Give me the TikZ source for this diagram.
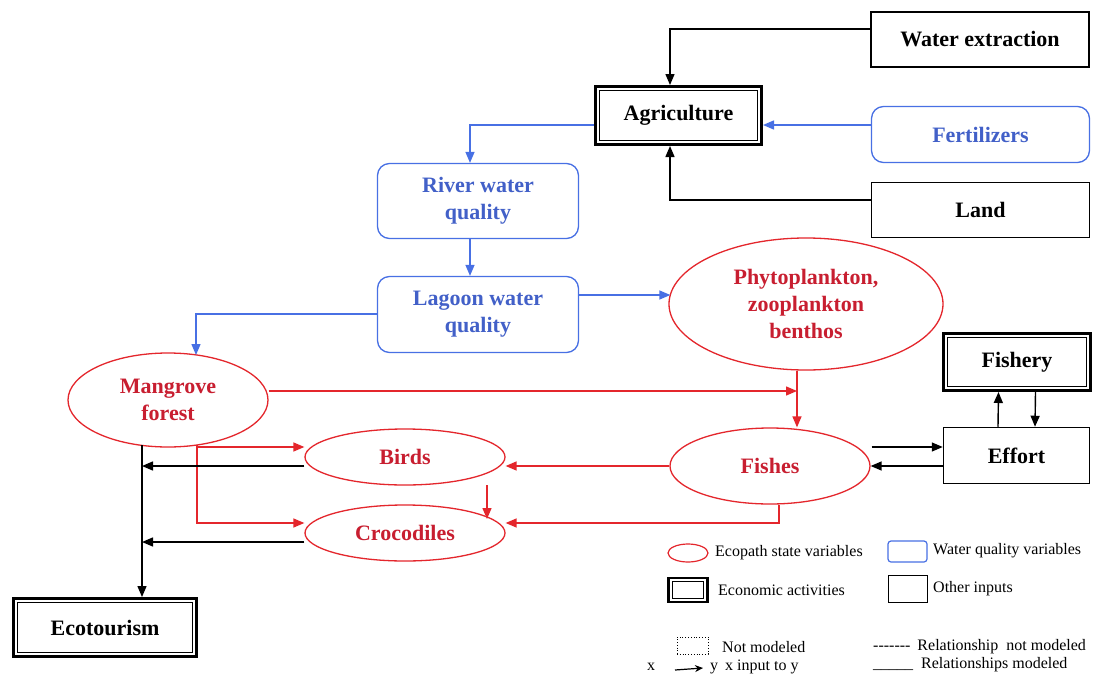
\documentclass[tikz,border=0pt]{standalone}
\usepackage{fontspec}
\setmainfont{Liberation Serif}
\usetikzlibrary{shapes.geometric,arrows.meta,calc}
\definecolor{myred}{RGB}{228,38,44}
\definecolor{redtxt}{RGB}{200,30,48}
\definecolor{myblue}{RGB}{72,112,228}
\definecolor{bluetxt}{RGB}{66,96,200}
\tikzset{
  lbl/.style={font=\fontsize{22}{27}\selectfont\bfseries, align=center, inner sep=0pt},
  otherbox/.style={lbl, rectangle, draw=black, line width=1.5pt},
  econbox/.style={lbl, rectangle, draw=black, line width=3pt,
    path picture={\draw[black, line width=1.3pt]
      ([shift={(4.3pt,-4.3pt)}]path picture bounding box.north west) rectangle
      ([shift={(-4.3pt,4.3pt)}]path picture bounding box.south east);}},
  wqbox/.style={lbl, rectangle, draw=myblue, line width=1.3pt, rounded corners=12pt, text=bluetxt},
  ecoell/.style={lbl, ellipse, draw=myred, line width=1.3pt, text=redtxt},
  tip/.style={-{Triangle[length=11pt,width=9pt]}},
  karr/.style={tip, draw=black, line width=1.4pt},
  barr/.style={tip, draw=myblue, line width=1.4pt},
  rarr/.style={tip, draw=myred, line width=1.4pt},
  legtxt/.style={font=\fontsize{16}{19}\selectfont, anchor=west, inner sep=0pt},
}
\begin{document}
\begin{tikzpicture}[x=1pt,y=-1pt]
\useasboundingbox[fill=white] (0,0) rectangle (1096,678);

% nodes
\node[otherbox, minimum width=218pt, minimum height=55pt] (wext) at (980,39.5) {Water extraction};
\node[econbox, minimum width=166pt, minimum height=58pt] (agri) at (678.5,115.5) {Agriculture};
\node[wqbox, minimum width=218pt, minimum height=56pt] (fert) at (980.5,134.5) {Fertilizers};
\node[otherbox, minimum width=218pt, minimum height=55pt] (land) at (980.5,210) {Land};
\node[wqbox, minimum width=201pt, minimum height=75pt] (river) at (478,201) {River water\\quality};
\node[wqbox, minimum width=201pt, minimum height=76pt] (lagoon) at (478,314.5) {Lagoon water\\quality};
\node[ecoell, minimum width=274pt, minimum height=132pt] (phyto) at (806,304) {Phytoplankton,\\zooplankton\\benthos};
\node[ecoell, minimum width=200pt, minimum height=94pt] (mang) at (168,400) {Mangrove\\forest};
\node[ecoell, minimum width=200pt, minimum height=56pt] (birds) at (405,457) {Birds};
\node[ecoell, minimum width=200pt, minimum height=56pt] (croc) at (405,533) {Crocodiles};
\node[ecoell, minimum width=200pt, minimum height=76pt] (fishes) at (770,466) {Fishes};
\node[econbox, minimum width=147pt, minimum height=57pt] (fishery) at (1017,362) {Fishery};
\node[otherbox, minimum width=146pt, minimum height=56pt] (effort) at (1016.5,455.5) {Effort};
\node[econbox, minimum width=183pt, minimum height=58pt] (eco) at (105,627.5) {Ecotourism};

% top connectors
\draw[karr] ([yshift=10.5pt]wext.west) -| ([xshift=-8.5pt]agri.north);
\draw[barr] ([yshift=9.5pt]fert.west) -- ([yshift=-9.5pt]agri.east);
\draw[karr] ([yshift=10pt]land.west) -| ([xshift=-8.5pt]agri.south);
\draw[barr] ([yshift=-9.5pt]agri.west) -| ([xshift=-8pt]river.north);
\draw[barr] ([xshift=-8pt]river.south) -- ([xshift=-8pt]lagoon.north);
\draw[barr] ([yshift=0.5pt]lagoon.west) -| ([xshift=28pt,yshift=45pt]mang.center);
\draw[barr] ([yshift=19.5pt]lagoon.east) -- ([xshift=2pt,yshift=9pt]phyto.west);

% red food-web connectors
\coordinate (m1) at ([yshift=9pt]mang.east);
\coordinate (pf) at ([xshift=-9pt]phyto.south);
\draw[rarr] (m1) -- (m1 -| pf);
\draw[rarr] (pf) -- (pf |- fishes.north);
\coordinate (mb) at ([xshift=29pt,yshift=-45pt]mang.center);
\draw[rarr] (mb) |- ([yshift=10pt]birds.west);
\draw[rarr] (mb) |- ([yshift=10pt]croc.west);
\draw[rarr] (fishes.west) -- ([yshift=-9pt]birds.east);
\coordinate (f1) at ([xshift=9pt]fishes.south);
\draw[rarr] (f1) |- ([yshift=10pt]croc.east);
\draw[rarr] ([xshift=82pt,yshift=-28pt]birds.center) -- ([xshift=82pt,yshift=14pt]croc.center);

% black connectors to ecotourism
\coordinate (mk) at ([xshift=-26pt,yshift=-45pt]mang.center);
\draw[karr] (mk) -- (mk |- eco.north);
\coordinate (b1) at ([yshift=-9pt]birds.west);
\draw[karr] (b1) -- (b1 -| mk);
\coordinate (c2) at ([yshift=-9pt]croc.west);
\draw[karr] (c2) -- (c2 -| mk);

% fishery connectors
\draw[karr] ([xshift=1pt,yshift=19pt]fishes.east) -- ([yshift=8.5pt]effort.west);
\draw[karr] ([yshift=-10.5pt]effort.west) -- (fishes.east);
\draw[karr] ([xshift=-18.5pt]effort.north) -- ([xshift=-18.5pt]fishery.south);
\draw[karr] ([xshift=18.5pt]fishery.south) -- ([xshift=18.5pt]effort.north);

% legend
\node[ellipse, draw=myred, line width=1.2pt, minimum width=40pt, minimum height=18pt, inner sep=0pt] (lgA) at (688,553) {};
\node[legtxt] (lgAt) at (715,553) {Ecopath state variables};
\node[rectangle, draw=myblue, line width=1.2pt, rounded corners=3pt, minimum width=39pt, minimum height=21pt, inner sep=0pt] (lgB) at (907.5,551.5) {};
\node[legtxt] (lgBt) at (933,551) {Water quality variables};
\node[rectangle, draw=black, line width=2.2pt, minimum width=39pt, minimum height=24pt, inner sep=0pt,
  path picture={\draw[black, line width=1pt]
      ([shift={(3.6pt,-3.6pt)}]path picture bounding box.north west) rectangle
      ([shift={(-3.6pt,3.6pt)}]path picture bounding box.south east);}] (lgC) at (688,590) {};
\node[legtxt] (lgCt) at (718,590) {Economic activities};
\node[rectangle, draw=black, line width=1pt, minimum width=39pt, minimum height=27pt, inner sep=0pt] (lgD) at (907.5,588.5) {};
\node[legtxt] (lgDt) at (933,589) {Other inputs};
\node[rectangle, draw=black, line width=0.8pt, dotted, minimum width=31pt, minimum height=17pt, inner sep=0pt] (lgE) at (692.5,645.5) {};
\node[legtxt] (lgEt) at (722,647) {Not modeled};
\node[legtxt] (lgx) at (647,667) {x};
\coordinate (lga1) at (675,670);
\coordinate (lga2) at (703,668);
\draw[black, line width=1.2pt, -{Stealth[length=8pt,width=7pt]}] (lga1) -- (lga2);
\node[legtxt] (lgy) at (710,667) {y\hspace{7pt}x input to y};
\node[legtxt] (lgF) at (873,647) {-{}-{}-{}-{}-{}-{}-\hspace{3pt} Relationship\hspace{4pt} not modeled};
\node[legtxt] (lgG) at (873,665) {\_\_\_\_\_\hspace{4pt} Relationships modeled};
\end{tikzpicture}
\end{document}
